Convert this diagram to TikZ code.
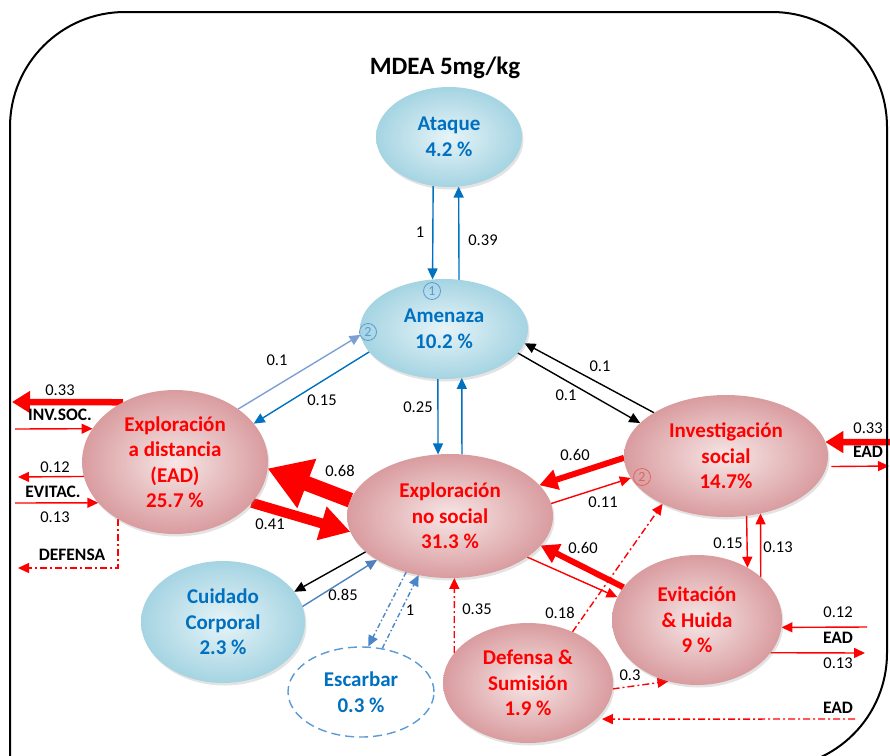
\documentclass[tikz,border=0pt]{standalone}
\usepackage{fontspec}
\setmainfont{Carlito}
\usetikzlibrary{shapes.geometric,arrows.meta,shadows,backgrounds}
\definecolor{tblue}{RGB}{0,112,192}
\definecolor{ablue}{RGB}{0,112,192}
\definecolor{lblue}{RGB}{125,160,212}
\definecolor{sblue}{RGB}{79,129,189}
\definecolor{dblue}{RGB}{74,134,200}
\definecolor{bIn}{RGB}{230,244,248}
\definecolor{bOut}{RGB}{165,212,226}
\definecolor{rIn}{RGB}{247,230,230}
\definecolor{rOut}{RGB}{217,156,159}
\definecolor{cred}{RGB}{222,100,100}
\definecolor{cblue}{RGB}{91,155,213}
\definecolor{pred}{RGB}{255,0,0}
\tikzset{
  basenode/.style={ellipse, inner sep=0pt, outer sep=0pt, align=center,
    font=\fontsize{21}{25.5}\selectfont\bfseries,
    drop shadow={opacity=0.22, shadow xshift=1.5pt, shadow yshift=-2.5pt}},
  bnode/.style={basenode, shading=radial, inner color=bIn, outer color=bOut, text=tblue},
  rnode/.style={basenode, shading=radial, inner color=rIn, outer color=rOut, text=pred},
  num/.style={font=\fontsize{16.5}{16.5}\selectfont, text=black, inner sep=0pt},
  blab/.style={font=\fontsize{17.5}{17.5}\selectfont\bfseries, text=black, inner sep=0pt},
  circ/.style={circle, draw, inner sep=0pt, minimum size=17pt, line width=0.8pt,
    font=\fontsize{14}{14}\selectfont},
  arr/.style={line width=1.4pt, -{Triangle[length=11pt,width=10pt]}},
  dd/.style={dash pattern=on 7pt off 3pt on 2pt off 3pt},
  bdd/.style={dash pattern=on 5pt off 2.5pt on 1.5pt off 2.5pt},
  thick6/.style={line width=6.5pt, -{Triangle[length=18pt,width=21pt]}}
}
\begin{document}
\begin{tikzpicture}[x=1pt,y=-1pt]
\useasboundingbox (0,0) rectangle (890,755);
% frame
\draw[line width=2pt, rounded corners=115pt] (10,800) -- (10,12) -- (887,12) -- (887,768) -- (500,768);
% title
\node[font=\fontsize{25}{25}\selectfont\bfseries] (title) at (445,68) {MDEA 5mg/kg};
% nodes
\node[bnode, minimum width=146pt, minimum height=100pt] (ata) at (449,137) {Ataque\\4.2 \%};
\node[bnode, minimum width=168pt, minimum height=100pt] (ame) at (444,329) {Amenaza\\10.2 \%};
\node[rnode, minimum width=186pt, minimum height=144pt] (ead) at (175,462) {Exploración\\a distancia\\(EAD)\\25.7 \%};
\node[rnode, minimum width=206pt, minimum height=124pt] (ens) at (450,516) {Exploración\\no social\\31.3 \%};
\node[rnode, minimum width=204pt, minimum height=122pt] (is) at (726,456) {Investigación\\social\\14.7\%};
\node[rnode, minimum width=170pt, minimum height=130pt] (eh) at (697,620) {Evitación\\\& Huida\\9 \%};
\node[rnode, minimum width=170pt, minimum height=120pt] (ds) at (528,683) {Defensa \&\\Sumisión\\1.9 \%};
\node[bnode, minimum width=164pt, minimum height=122pt] (cc) at (223,622) {Cuidado\\Corporal\\2.3 \%};
\node[ellipse, draw=cblue, dash pattern=on 9pt off 5pt, line width=1.4pt, fill=white,
  minimum width=146pt, minimum height=90pt, inner sep=0pt, text=tblue, align=center,
  font=\fontsize{21}{25.5}\selectfont\bfseries] (esc) at (361,692) {Escarbar\\0.3 \%};
% circled marks
\node[circ, draw=cblue, text=cblue] (m1) at (432,291) {1};
\node[circ, draw=cblue, text=cblue] (m2) at (368,332) {2};
\node[circ, draw=cred, text=cred] (m3) at (642,477) {2};
% free ends
\coordinate (e33l) at (12,402);
\coordinate (e429) at (15,429);
\coordinate (e477) at (18,477);
\coordinate (e503) at (15,503);
\coordinate (edef) at (18,568);
\coordinate (i33) at (890,442);
\coordinate (i466) at (889,466);
\coordinate (h12) at (867,627);
\coordinate (h13) at (865,653);
\coordinate (dsr) at (855,719);
\begin{pgfonlayer}{background}
% blue
\draw[arr, ablue] (ata.252) -- (ame.103);
\draw[arr, ablue] (ame.73) -- (ata.281);
\draw[arr, ablue] (ame.263) -- (ens.101);
\draw[arr, ablue] (ens.79) -- (ame.290);
\draw[arr, lblue] (ead.40) -- (ame.184);
\draw[arr, ablue] (ame.197) -- (ead.26);
\draw[arr, sblue] (cc.11) -- (ens.211);
\draw[arr, dblue, bdd] (ens.232) -- (esc.81);
\draw[arr, dblue, bdd] (esc.64) -- (ens.242);
% black
\draw[arr, black] (ame.342) -- (is.159);
\draw[arr, black] (is.149) -- (ame.350);
\draw[arr, black] (ens.203) -- (cc.23);
% red thick
\draw[pred, line width=15pt, -{Triangle[length=42pt,width=50pt]}] (ens.171) -- (ead.356);
\draw[pred, line width=10pt, -{Triangle[length=30pt,width=33pt]}] (ead.332) -- (ens.189);
\draw[pred, line width=6pt, -{Triangle[length=18pt,width=20pt]}] (is.181) -- (ens.19);
\draw[pred, line width=6pt, -{Triangle[length=18pt,width=20pt]}] (eh.156) -- (ens.342);
\draw[pred, thick6] (ead.131) -- (e33l);
\draw[pred, thick6] (i33) -- (is.8);
% red thin
\draw[arr, pred] (ens.7) -- (is.193);
\draw[arr, pred] (ens.332) -- (eh.164);
\draw[arr, pred] (is.289) -- (eh.46);
\draw[arr, pred] (eh.34) -- (is.301);
\draw[arr, pred] (e429) -- (ead.158);
\draw[arr, pred] (ead.189) -- (e477);
\draw[arr, pred] (e503) -- (ead.208);
\draw[arr, pred, shorten <=5pt] (is.354) -- (i466);
\draw[arr, pred] (h12) -- (eh.355);
\draw[arr, pred] (eh.336) -- (h13);
% red dash-dot
\draw[arr, pred, dd] (ead.225) |- (edef);
\draw[arr, pred, dd] (ds.158) -- (ens.274);
\draw[arr, pred, dd] (ds.49) -- (is.217);
\draw[arr, pred, dd] (ds.356) -- (eh.245);
\draw[arr, pred, dd, shorten >=6pt] (dsr) -- (ds.332);
\end{pgfonlayer}
% labels
\node[num] (l1) at (420,232) {1};
\node[num] (l2) at (483,240) {0.39};
\node[num] (l3) at (277,360) {0.1};
\node[num] (l4) at (322,400) {0.15};
\node[num] (l5) at (418,407) {0.25};
\node[num] (l6) at (600,366) {0.1};
\node[num] (l7) at (566,395) {0.1};
\node[num] (l8) at (60,390) {0.33};
\node[blab] (l9) at (60,415) {INV.SOC.};
\node[num] (l10) at (55,467) {0.12};
\node[blab] (l11) at (53,492) {EVITAC.};
\node[num] (l12) at (55,517) {0.13};
\node[blab] (l13) at (72,555) {DEFENSA};
\node[num] (l14) at (340,471) {0.68};
\node[num] (l15) at (270,524) {0.41};
\node[num] (l16) at (575,455) {0.60};
\node[num] (l17) at (603,502) {0.11};
\node[num] (l18) at (583,548) {0.60};
\node[num] (l19) at (343,595) {0.85};
\node[num] (l20) at (410,610) {1};
\node[num] (l21) at (477,609) {0.35};
\node[num] (l22) at (560,613) {0.18};
\node[num] (l23) at (630,675) {0.3};
\node[num] (l24) at (728,543) {0.15};
\node[num] (l25) at (778,547) {0.13};
\node[num] (l26) at (868,428) {0.33};
\node[blab] (l27) at (868,452) {EAD};
\node[num] (l28) at (838,612) {0.12};
\node[blab] (l29) at (838,638) {EAD};
\node[num] (l30) at (838,663) {0.13};
\node[blab] (l31) at (838,708) {EAD};
\end{tikzpicture}
\end{document}
